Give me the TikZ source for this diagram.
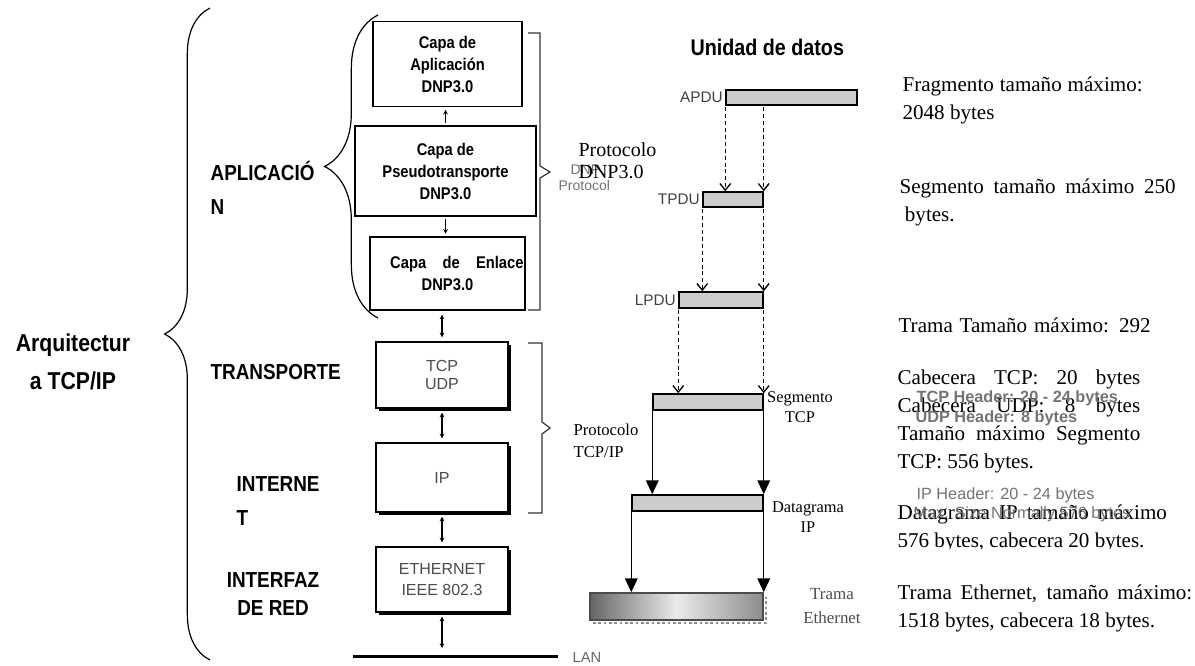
\documentclass[tikz,border=0pt]{standalone}
\usepackage{fontspec}
\setmainfont{Liberation Serif}
\setsansfont{Liberation Sans}
\newfontfamily\narrowsans{Liberation Sans}[FakeStretch=0.87]
\usetikzlibrary{arrows.meta,decorations.pathreplacing,shadows}

\begin{document}
\begin{tikzpicture}
[x=0.75pt, y=-0.75pt, line width=0.9pt,
 layer/.style={draw, align=center, inner sep=0pt, font=\narrowsans\bfseries\fontsize{12.7}{16.5}\selectfont},
 tcplayer/.style={draw, fill=white, line width=1.1pt, align=center, inner sep=0pt, text=black!70,
   font=\sffamily\fontsize{12}{13}\selectfont,
   drop shadow={opacity=1, fill=black, shadow xshift=2.2pt, shadow yshift=-2.2pt}},
 levellbl/.style={anchor=west, align=left, inner sep=0pt, font=\narrowsans\bfseries\fontsize{16.3}{25}\selectfont},
 pdubar/.style={draw, fill=black!20, line width=1.1pt, inner sep=0pt, minimum height=11.25pt},
 pdulbl/.style={anchor=east, inner sep=1.5pt, text=black!75, font=\sffamily\fontsize{11.5}{13}\selectfont},
 unitlbl/.style={align=center, inner sep=0pt, font=\fontsize{12.3}{15}\selectfont},
 infotext/.style={anchor=west, align=left, inner sep=0pt, font=\fontsize{15.8}{21}\selectfont},
 engtext/.style={anchor=west, inner sep=0pt, text=black!55, font=\sffamily\fontsize{12.2}{14}\selectfont},
 uparr/.style={-{Stealth[length=3.5pt,width=3.5pt]}, shorten <=2pt, shorten >=2pt},
 dblarrow/.style={{Stealth[length=3.5pt,width=3.5pt]}-{Stealth[length=3.5pt,width=3.5pt]}, shorten <=3pt, shorten >=3pt},
 dasharr/.style={-{Straight Barb[length=5pt,width=8pt]}, line width=1pt, dash pattern=on 3pt off 2.2pt, shorten <=1pt},
 solidarr/.style={-{Triangle[length=10.5pt,width=9.5pt]}, line width=1.1pt}]
\useasboundingbox (0,0) rectangle (1195,666);

% architecture braces and level names
\coordinate (archtop) at (210,8);
\coordinate (archbot) at (210,660);
\draw[decorate, decoration={brace, amplitude=34pt}] (archbot) -- (archtop);
\node (arch) at (73,362)[align=center, inner sep=0pt, font=\narrowsans\bfseries\fontsize{18.3}{29}\selectfont] {Arquitectur\\a TCP/IP};

\coordinate (apptop) at (378,15);
\coordinate (appbot) at (378,318);
\draw[decorate, decoration={brace, amplitude=40pt}] (appbot) -- (apptop);
\node (aplic) at (210,188)[levellbl] {APLICACIÓ\\N};
\node (transp) at (210,372)[levellbl] {TRANSPORTE};
\node (internet) at (236,501)[levellbl, font=\narrowsans\bfseries\fontsize{16.3}{25.5}\selectfont] {INTERNE\\T};
\node (interfaz) at (273,594)[levellbl, anchor=center, align=center, font=\narrowsans\bfseries\fontsize{16.3}{21}\selectfont] {INTERFAZ\\DE RED};

% DNP3.0 layers
\node (app) at (447.5,64)[layer, minimum width=111.75pt, minimum height=63.75pt] {Capa de\\Aplicación\\DNP3.0};
\node (pseudo) at (445.5,171)[layer, minimum width=135.75pt, minimum height=67.5pt] {Capa de\\Pseudotransporte\\DNP3.0};
\node (link) at (447.5,273.5)[layer, minimum width=116.25pt, minimum height=54.75pt] {\hspace*{14pt}\makebox[100pt][s]{Capa de Enlace}\\DNP3.0};

\draw[uparr] (pseudo.north) -- (pseudo.north |- app.south);
\draw[uparr] (pseudo.south) -- (pseudo.south |- link.north);

\draw[black!80] (528,33) -- (540,33) -- (540,166) -- (550,172) -- (540,178) -- (540,310) -- (528,310);
\node (dnpeng) at (570,170)[engtext, font=\sffamily\fontsize{10.5}{12}\selectfont] {DNP};
\node (protoeng) at (558,185)[engtext, font=\sffamily\fontsize{10.5}{12}\selectfont] {Protocol};
\node (dnpproto) at (578,161)[anchor=west, align=left, inner sep=0pt, font=\fontsize{15}{16.5}\selectfont] {Protocolo\\DNP3.0};

% TCP/IP layers
\node (tcp) at (442,375)[tcplayer, minimum width=99pt, minimum height=49.5pt] {TCP\\UDP};
\node (ip) at (442,477.5)[tcplayer, minimum width=99pt, minimum height=51.75pt] {IP};
\node (ether) at (442,579.5)[tcplayer, minimum width=99pt, minimum height=48.75pt, font=\sffamily\fontsize{12}{15.75}\selectfont] {ETHERNET\\IEEE 802.3};

\draw[dblarrow] (tcp.north |- link.south) -- (tcp.north);
\draw[dblarrow] (tcp) -- (ip);
\draw[dblarrow] (ip) -- (ether);

\coordinate (lanleft) at (353,656);
\coordinate (lanright) at (558,656);
\draw[line width=2.25pt] (lanleft) -- (lanright);
\node (lan) at (572,657)[anchor=west, inner sep=0pt, text=black!60, font=\sffamily\fontsize{11}{13}\selectfont] {LAN};
\draw[dblarrow, shorten >=6pt] (ether) -- (ether.south |- lanleft);

\draw[black!80] (528,343) -- (542,343) -- (542,422) -- (550,428) -- (542,434) -- (542,513) -- (528,513);
\node (tcpproto) at (573,441)[anchor=west, align=left, inner sep=0pt, font=\fontsize{12.5}{16.5}\selectfont] {Protocolo\\TCP/IP};

% data units
\node (title) at (690,47)[anchor=west, inner sep=0pt, font=\narrowsans\bfseries\fontsize{17}{20}\selectfont] {Unidad de datos};

\node (apdu) at (791.5,97.5)[pdubar, minimum width=98.25pt] {};
\node (tpdu) at (733,199.5)[pdubar, minimum width=45pt] {};
\node (lpdu) at (721,300)[pdubar, minimum width=63pt, minimum height=12pt] {};
\node (seg) at (708,402)[pdubar, minimum width=82.5pt, minimum height=12pt] {};
\node (ipd) at (697.5,503)[pdubar, minimum width=98.25pt, minimum height=12pt] {};
\draw[black!45, dotted, line width=2pt] (593,623) -- (766,623) -- (766,597);
\node (eth) at (676.5,606.5)[draw=black!70, line width=1.1pt, inner sep=0pt, minimum width=129.75pt, minimum height=20.25pt,
   left color=black!60, right color=black!45, middle color=black!8] {};

\node (apdulbl) at (apdu.west)[pdulbl] {APDU};
\node (tpdulbl) at (tpdu.west)[pdulbl] {TPDU};
\node (lpdulbl) at (lpdu.west)[pdulbl] {LPDU};

\draw[dasharr] (apdu.south west) -- (apdu.south west |- tpdu.north);
\draw[dasharr] (tpdu.north east |- apdu.south) -- (tpdu.north east);
\draw[dasharr] (tpdu.south west) -- (tpdu.south west |- lpdu.north);
\draw[dasharr] (tpdu.south east) -- (lpdu.north east);
\draw[dasharr] (lpdu.south west) -- (lpdu.south west |- seg.north);
\draw[dasharr] (lpdu.south east) -- (lpdu.south east |- seg.north);
\draw[solidarr] (seg.south west) -- (seg.south west |- ipd.north);
\draw[solidarr] (seg.south east) -- (seg.south east |- ipd.north);
\draw[solidarr] (ipd.south west) -- (ipd.south west |- eth.north);
\draw[solidarr] (ipd.south east) -- (ipd.south east |- eth.north);

\node (segtxt) at (800,407)[unitlbl] {Segmento\\TCP};
\node (dgtxt) at (808,517)[unitlbl] {Datagrama\\IP};
\node (trtxt) at (832,606)[unitlbl, text=black!70, font=\fontsize{12.7}{18}\selectfont] {Trama\\Ethernet};

% sizes
\node (fraginfo) at (902,100.5)[infotext] {\makebox[180pt][s]{Fragmento tamaño máximo:}\\2048 bytes};
\node (seginfo) at (899,202)[infotext] {\makebox[207pt][s]{Segmento tamaño máximo 250}\\\hspace*{4pt}bytes.};
\node (trinfo) at (898,325)[infotext] {\makebox[189pt][s]{Trama Tamaño máximo: 292}};
\node (hdrinfo) at (897,421)[infotext] {\makebox[182pt][s]{Cabecera TCP: 20 bytes}\\\makebox[182pt][s]{Cabecera UDP: 8 bytes}\\\makebox[182pt][s]{Tamaño máximo Segmento}\\TCP: 556 bytes.};
\begin{scope}
\clip (880,490) rectangle (1195,548);
\node (dginfo) at (897,528.5)[infotext] {\makebox[202pt][s]{Datagrama IP tamaño máximo}\\576 bytes, cabecera 20 bytes.};
\end{scope}
\node (ethinfo) at (897,608)[infotext] {\makebox[221pt][s]{Trama Ethernet, tamaño máximo:}\\1518 bytes, cabecera 18 bytes.};

\node (tcphdr) at (916,398)[engtext, font=\sffamily\bfseries\fontsize{12.2}{14}\selectfont] {TCP Header: 20 - 24 bytes};
\node (udphdr) at (915,418)[engtext, font=\sffamily\bfseries\fontsize{12.2}{14}\selectfont] {UDP Header: 8 bytes};
\node (iphdr) at (916,495)[engtext] {IP Header: 20 - 24 bytes};
\node (maxsize) at (913,514)[engtext] {Max. Size Normally 576 bytes};

\end{tikzpicture}
\end{document}
